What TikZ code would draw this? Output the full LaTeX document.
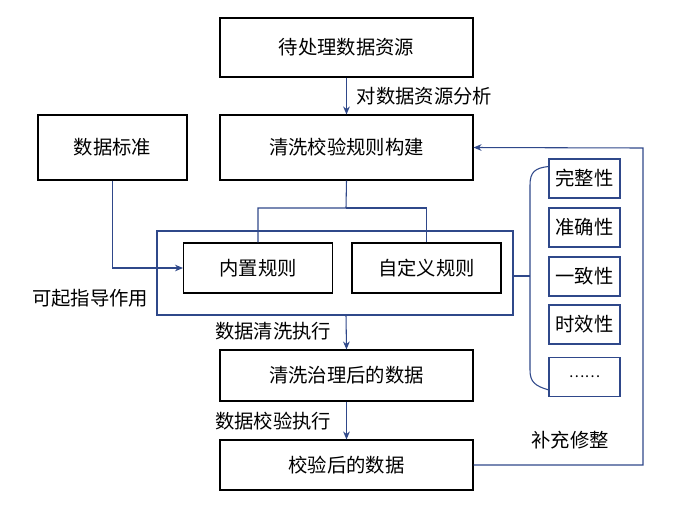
\documentclass[tikz,border=0pt]{standalone}
\usepackage{fontspec}
\setmainfont{Noto Sans CJK SC}
\usepackage{tikz}
\usetikzlibrary{arrows.meta}
\definecolor{navy}{RGB}{47,72,138}
\tikzset{
  box/.style={draw=black, thick, minimum width=253*0.75pt, inner sep=0pt, font=\fontsize{14.5}{17}\selectfont},
  rule/.style={draw=black, thick, minimum width=149*0.75pt, minimum height=50*0.75pt, inner sep=0pt, font=\fontsize{14.5}{17}\selectfont},
  prop/.style={draw=navy, thick, minimum width=71*0.75pt, minimum height=39*0.75pt, inner sep=0pt, font=\fontsize{14.5}{17}\selectfont},
  link/.style={navy, thick},
  flow/.style={navy, thick, -{Stealth[length=6pt,width=5pt]}},
  lbl/.style={text=black, font=\fontsize{14.5}{17}\selectfont}
}
\begin{document}
\begin{tikzpicture}[x=0.75pt, y=-0.75pt]
\useasboundingbox (0,0) rectangle (678,522);

% main column
\node[box, minimum height=59*0.75pt] (src) at (346.5,47.5) {待处理数据资源};
\node[box, minimum height=65*0.75pt] (build) at (346.5,147.5) {清洗校验规则构建};
\node[draw=black, thick, minimum width=149*0.75pt, minimum height=65*0.75pt, inner sep=0pt, font=\fontsize{14.5}{17}\selectfont] (std) at (112.5,147.5) {数据标准};
\node[box, minimum height=51*0.75pt] (clean) at (346.5,375.5) {清洗治理后的数据};
\node[box, minimum height=50*0.75pt] (check) at (346.5,465) {校验后的数据};

% rule container and rules
\draw[link] (157,231) rectangle (513,315);
\coordinate (rtop) at (346,231);
\coordinate (rbot) at (346,315);
\coordinate (rright) at (513,276);
\node[rule] (builtin) at (258,268) {内置规则};
\node[rule] (custom) at (426.5,268) {自定义规则};

% quality properties
\node[prop] (p1) at (584.5,178.5) {完整性};
\node[prop] (p2) at (584.5,227.5) {准确性};
\node[prop] (p3) at (584.5,276.5) {一致性};
\node[prop] (p4) at (584.5,324.5) {时效性};
\node[prop] (p5) at (584.5,377) {\fontsize{11}{12}\selectfont ……};

% bracket
\draw[link] (p1.west) ++(0,-12) .. controls (535,168) and (530,172) .. (530,185) -- (530,370)
  .. controls (530,382) and (535,386) .. (549,390);
\draw[link] (rright) -- (530,276);

% connectors
\draw[flow] (src) -- node[lbl, right=4pt] {对数据资源分析} (build);
\draw[link] (build.south) -- (346,208) -- (258,208) -- (builtin.north);
\draw[link] (346,208) -- (426.5,208) -- (custom.north);
\draw[flow] (std.south) |- (builtin.west);
\node[lbl] (guide) at (90,298) {可起指导作用};
\draw[flow] (rbot) -- (clean.north);
\node[lbl] (exec1) at (273,331) {数据清洗执行};
\draw[flow] (clean.south) -- (check.north);
\node[lbl] (exec2) at (273,421) {数据校验执行};
\draw[flow] (check.east) -- (643,465) -- (643,148) -- (build.east);
\node[lbl] (fix) at (570,440) {补充修整};
\end{tikzpicture}
\end{document}
